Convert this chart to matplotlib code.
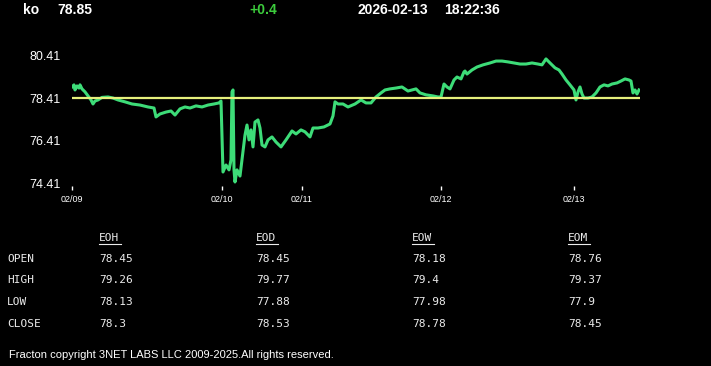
import numpy as np
import matplotlib
matplotlib.use("Agg")
import matplotlib.pyplot as plt
from matplotlib.lines import Line2D

# ---- data ----
symbol = "ko"
last_price = "78.85"
change = "+0.4"
stamp_date = "2026-02-13"
stamp_time = "18:22:36"

# trading-time position (one unit ~ one chart column) and price
t = [0, 2, 3, 5, 7, 8, 10, 13, 16, 19, 21, 23, 26, 30, 36, 41, 46, 53, 60, 68,
     76, 82, 84, 88, 94, 99, 103, 108, 113, 118, 124, 130, 136, 142, 147, 149,
     151, 154, 157, 159, 160, 161, 162, 163, 165, 168, 170, 173, 175, 177, 179,
     181, 183, 186, 188, 190, 193, 196, 200, 204, 209, 214, 220, 224, 229, 233,
     238, 241, 246, 252, 258, 261, 263, 266, 271, 276, 283, 289, 294, 299, 304,
     309, 313, 318, 324, 330, 336, 340, 344, 348, 354, 361, 366, 369, 372, 375,
     378, 382, 385, 389, 392, 393, 395, 400, 405, 411, 418, 424, 430, 436, 442,
     448, 454, 460, 466, 470, 474, 478, 483, 487, 490, 494, 498, 502, 504, 506,
     508, 510, 512, 516, 520, 524, 528, 532, 536, 540, 545, 549, 553, 557, 559,
     561, 563, 565, 567]
price = [78.95, 79.05, 78.81, 79.00, 78.90, 79.05, 78.86, 78.72, 78.53, 78.34,
         78.15, 78.29, 78.34, 78.46, 78.48, 78.43, 78.34, 78.25, 78.15, 78.10,
         78.01, 77.96, 77.54, 77.68, 77.77, 77.82, 77.63, 77.92, 78.01, 77.96,
         78.06, 78.01, 78.10, 78.15, 78.20, 78.29,
         74.95, 75.28, 75.05, 75.52, 78.72, 78.81, 75.05, 74.48, 75.05, 74.76,
         75.52, 76.69, 77.16, 76.46, 76.93, 76.13, 77.30, 77.40, 77.02, 76.22,
         76.13, 76.46, 76.60, 76.36, 76.13, 76.46, 76.88, 76.74, 76.93, 76.84,
         76.60, 77.02, 77.02, 77.07, 77.21, 77.59, 78.25, 78.15, 78.15, 78.01,
         78.15, 78.34, 78.20, 78.20, 78.48, 78.67, 78.81, 78.86, 78.90, 78.95,
         78.76, 78.81, 78.86, 78.67, 78.58, 78.53, 78.48, 78.48, 79.09, 78.95,
         78.86, 79.28, 79.42, 79.33, 79.66, 79.70, 79.56, 79.75, 79.89, 79.99,
         80.08, 80.17, 80.17, 80.13, 80.08, 80.03, 80.03, 80.08, 80.03, 79.99,
         80.27, 80.08, 79.85, 79.75, 79.56, 79.28, 79.05, 78.81, 78.34, 78.72,
         78.95, 78.62, 78.43, 78.43, 78.48, 78.67, 78.95, 79.05, 79.00, 79.09,
         79.14, 79.23, 79.33, 79.28, 79.23, 78.67, 78.81, 78.62, 78.81]
ref_level = 78.41
t_end = 568

day_pos = [0, 150, 230, 369, 502]
day_labels = ["02/09", "02/10", "02/11", "02/12", "02/13"]
y_ticks = [74.41, 76.41, 78.41, 80.41]

row_names = ["OPEN", "HIGH", "LOW", "CLOSE"]
col_names = ["EOH", "EOD", "EOW", "EOM"]
eoh = ["78.45", "79.26", "78.13", "78.3"]
eod = ["78.45", "79.77", "77.88", "78.53"]
eow = ["78.18", "79.4", "77.98", "78.78"]
eom = ["78.76", "79.37", "77.9", "78.45"]

W, H = 711, 366
fig = plt.figure(figsize=(W / 100, H / 100), dpi=100, facecolor="black")


def px(x, y):
    return x / W, 1 - y / H


# chart area: 02/09 at px 72, end at px 640; 80.41 at px 56, 74.41 at px 183.5
ax = fig.add_axes([72 / W, 1 - 185.6 / H, (640 - 72) / W, (185.6 - 50) / H])
ax.set_facecolor("black")
ax.plot(t, price, color="#3ddc78", lw=2.2, solid_joinstyle="round")
ax.hlines(ref_level, 0, t_end, color="#e6f07c", lw=1.6)
ax.set_xlim(0, t_end)
ax.set_ylim(74.41 - 0.1, 80.41 + 0.28)
for s in ax.spines.values():
    s.set_visible(False)

ax.set_yticks(y_ticks)
ax.set_yticklabels([f"{v:.2f}" for v in y_ticks], fontsize=9,
                   family="Liberation Sans", color="white")
ax.tick_params(axis="y", length=0, pad=8)
ax.set_xticks(day_pos)
ax.set_xticklabels(day_labels, fontsize=6.5, family="Liberation Sans", color="white")
ax.tick_params(axis="x", length=3, width=1, color="white", pad=3.5, direction="out")

# header
hdr = dict(family="Liberation Sans", fontweight="bold", fontsize=10, va="center", ha="left")
fig.text(*px(23, 10), symbol, color="white", **hdr)
fig.text(*px(57, 10), last_price, color="white", **hdr)
fig.text(*px(249, 10), change, color="#3ccc3c", **hdr)
fig.text(*px(357, 10), stamp_date, color="white", **hdr)
fig.text(*px(444, 10), stamp_time, color="white", **hdr)

# OHLC table
mono = dict(family="DejaVu Sans Mono", fontsize=8, color="#ececec", va="center", ha="left")
col_x = [99, 256, 412, 568]
row_y = [259, 280, 302, 324]
for name, y in zip(row_names, row_y):
    fig.text(*px(7, y), name, **mono)
for cx, cname, vals in zip(col_x, col_names, [eoh, eod, eow, eom]):
    fig.text(*px(cx, 238), cname, **mono)
    x0, y0 = px(cx, 244)
    x1, _ = px(cx + 22, 244)
    fig.add_artist(Line2D([x0, x1], [y0, y0], color="#ececec", lw=0.8,
                          transform=fig.transFigure))
    for v, y in zip(vals, row_y):
        fig.text(*px(cx, y), v, **mono)

fig.text(*px(9, 355), "Fracton copyright 3NET LABS LLC 2009-2025.All rights reserved.",
         family="Liberation Sans", fontsize=8, color="white", va="center", ha="left")

fig.savefig("out.png", dpi=100, facecolor="black")
